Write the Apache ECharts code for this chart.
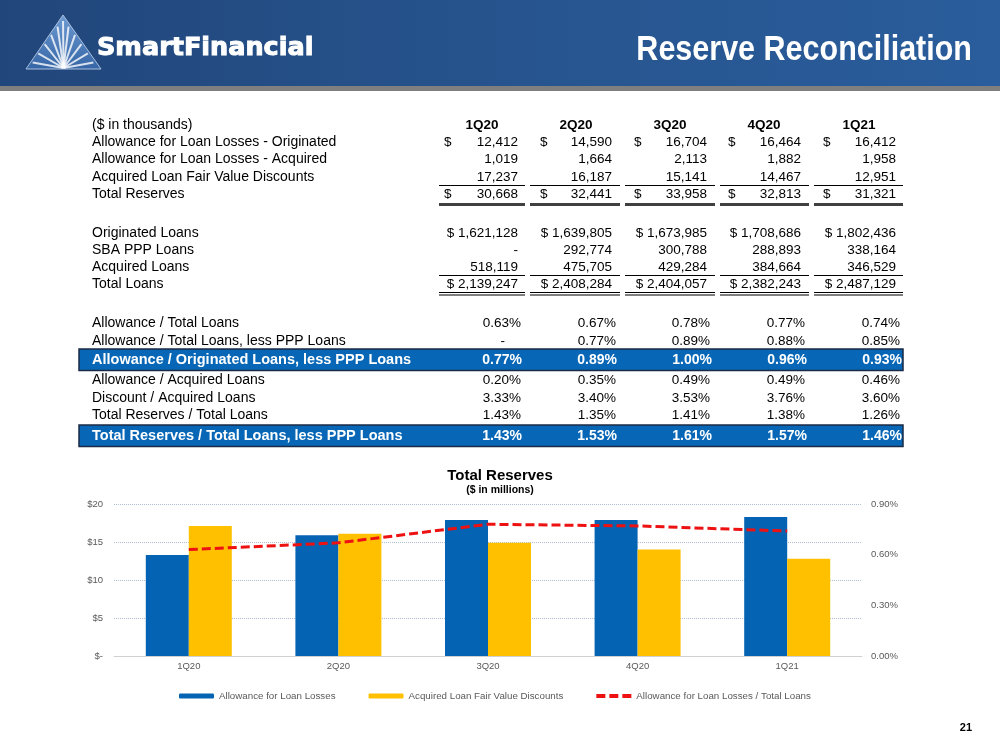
<!DOCTYPE html>
<html>
<head>
<meta charset="utf-8">
<script src="https://cdn.jsdelivr.net/npm/echarts@6/dist/echarts.min.js"></script>
<style>html,body{margin:0;padding:0;background:#fff}#c{width:1000px;height:750px}</style>
</head>
<body>
<div id="c"></div>
<script>
// ---------- data ----------
const quarters = ['1Q20', '2Q20', '3Q20', '4Q20', '1Q21'];
// table (in thousands)
const allowOrig = ['12,412', '14,590', '16,704', '16,464', '16,412'];
const allowAcq = ['1,019', '1,664', '2,113', '1,882', '1,958'];
const fvDisc = ['17,237', '16,187', '15,141', '14,467', '12,951'];
const totalRes = ['30,668', '32,441', '33,958', '32,813', '31,321'];
const origLoans = ['$ 1,621,128', '$ 1,639,805', '$ 1,673,985', '$ 1,708,686', '$ 1,802,436'];
const pppLoans = ['-', '292,774', '300,788', '288,893', '338,164'];
const acqLoans = ['518,119', '475,705', '429,284', '384,664', '346,529'];
const totLoans = ['$ 2,139,247', '$ 2,408,284', '$ 2,404,057', '$ 2,382,243', '$ 2,487,129'];
const pctAllowTot = ['0.63%', '0.67%', '0.78%', '0.77%', '0.74%'];
const pctAllowTotLessPPP = ['-', '0.77%', '0.89%', '0.88%', '0.85%'];
const pctAllowOrigLessPPP = ['0.77%', '0.89%', '1.00%', '0.96%', '0.93%'];
const pctAllowAcq = ['0.20%', '0.35%', '0.49%', '0.49%', '0.46%'];
const pctDiscAcq = ['3.33%', '3.40%', '3.53%', '3.76%', '3.60%'];
const pctResTot = ['1.43%', '1.35%', '1.41%', '1.38%', '1.26%'];
const pctResTotLessPPP = ['1.43%', '1.53%', '1.61%', '1.57%', '1.46%'];
// chart ($ in millions, ratio in %)
const allowanceM = [13.3, 15.9, 17.9, 17.9, 18.3];
const discountM = [17.1, 16.1, 14.9, 14.0, 12.8];
const ratioPct = [0.63, 0.67, 0.78, 0.77, 0.74];
const leftTicks = ['$-', '$5', '$10', '$15', '$20'];

// ---------- layout ----------
const FONT = '"Liberation Sans", Arial, Helvetica, sans-serif';
const colL = [439, 530, 625, 720, 814];
const colR = [525, 620, 715, 809, 903];
const colC = [482, 576, 670, 764, 859];
const numR = [518, 612, 707, 801, 896];
const dolX = [444, 540, 634, 728, 823];
const pctR = [521, 616, 710, 805, 900];
const hiR = [522, 617, 712, 807, 902];
const LABX = 92;

const G = [];
function txt(x, y, text, o) {
  G.push({type: 'text', x: x, y: y, silent: true, z: 10,
    style: Object.assign({text: text, fill: '#000', fontSize: 13.5, fontFamily: FONT,
      align: 'left', verticalAlign: 'middle'}, o || {})});
}
function hline(x1, x2, y, w, c) {
  G.push({type: 'line', silent: true, z: 10, shape: {x1: x1, y1: y, x2: x2, y2: y},
    style: {stroke: c || '#000', lineWidth: w || 1}});
}

// header band
G.push({type: 'rect', silent: true, z: 1, shape: {x: 0, y: 0, width: 1000, height: 86},
  style: {fill: new echarts.graphic.LinearGradient(0, 0, 1, 0, [
    {offset: 0, color: '#21467b'}, {offset: 0.55, color: '#27558f'}, {offset: 1, color: '#2a5d9c'}])}});
G.push({type: 'rect', silent: true, z: 1, shape: {x: 0, y: 86, width: 1000, height: 5},
  style: {fill: '#7f7f7f'}});
// logo triangle
G.push({type: 'polygon', silent: true, z: 2, shape: {points: [[63, 15], [101, 69], [26, 69]]},
  style: {fill: new echarts.graphic.LinearGradient(0, 0, 0, 1, [
    {offset: 0, color: '#6e9bd3'}, {offset: 1, color: '#3565a6'}]), stroke: '#a9c0de', lineWidth: 1}});
[[30, 62], [36, 52], [43, 42], [50, 32], [57, 23], [63, 17], [69, 23], [76, 32], [83, 42], [90, 52], [96, 62]].forEach(function (p) {
  G.push({type: 'line', silent: true, z: 3, shape: {x1: 63.5, y1: 68, x2: p[0] + (63.5 - p[0]) * 0.08, y2: p[1] + (68 - p[1]) * 0.08},
    style: {stroke: 'rgba(255,255,255,0.8)', lineWidth: 2}});
});
txt(97, 48, 'SmartFinancial', {fill: '#fff', fontSize: 25.5, fontWeight: 'bold', fontFamily: '"DejaVu Sans", sans-serif', stroke: '#fff', lineWidth: 1});
G.push({type: 'text', x: 972, y: 50, silent: true, z: 10, scaleY: 1.15,
  style: {text: 'Reserve Reconciliation', fill: '#fff', fontSize: 30.5, fontWeight: 'bold', fontFamily: FONT, align: 'right', verticalAlign: 'middle'}});

// table header
txt(LABX, 125, '($ in thousands)', {fontSize: 14});
quarters.forEach(function (q, i) { txt(colC[i], 125, q, {fontWeight: 'bold', align: 'center'}); });

function dollarRow(y, label, vals, withDollar) {
  txt(LABX, y, label, {fontSize: 14});
  vals.forEach(function (v, i) {
    if (withDollar) txt(dolX[i], y, '$');
    txt(numR[i], y, v, {align: 'right'});
  });
}
dollarRow(142, 'Allowance for Loan Losses - Originated', allowOrig, true);
dollarRow(159, 'Allowance for Loan Losses - Acquired', allowAcq, false);
dollarRow(177, 'Acquired Loan Fair Value Discounts', fvDisc, false);
dollarRow(194, 'Total Reserves', totalRes, true);
dollarRow(233, 'Originated Loans', origLoans, false);
dollarRow(250, 'SBA PPP Loans', pppLoans, false);
dollarRow(267, 'Acquired Loans', acqLoans, false);
dollarRow(284, 'Total Loans', totLoans, false);
for (let i = 0; i < 5; i++) {
  hline(colL[i], colR[i], 185.5, 1, '#000');
  hline(colL[i], colR[i], 204.5, 3, '#404040');
  hline(colL[i], colR[i], 275.5, 1, '#000');
  hline(colL[i], colR[i], 292.5, 1, '#000');
  hline(colL[i], colR[i], 295, 1, '#000');
}

function pctRow(y, label, vals) {
  txt(LABX, y, label, {fontSize: 14});
  vals.forEach(function (v, i) {
    if (v === '-') txt(pctR[i] - 16, y, v, {align: 'right'});
    else txt(pctR[i], y, v, {align: 'right'});
  });
}
function hiRow(y, label, vals) {
  G.push({type: 'rect', silent: true, z: 5, shape: {x: 79, y: y - 11, width: 824, height: 21.5},
    style: {fill: '#0767b6', stroke: '#1b2a45', lineWidth: 1.5}});
  txt(LABX, y, label, {fill: '#fff', fontWeight: 'bold', fontSize: 14.5});
  vals.forEach(function (v, i) { txt(hiR[i], y, v, {fill: '#fff', fontWeight: 'bold', fontSize: 14, align: 'right'}); });
}
pctRow(323, 'Allowance / Total Loans', pctAllowTot);
pctRow(341, 'Allowance / Total Loans, less PPP Loans', pctAllowTotLessPPP);
hiRow(360, 'Allowance / Originated Loans, less PPP Loans', pctAllowOrigLessPPP);
pctRow(380, 'Allowance / Acquired Loans', pctAllowAcq);
pctRow(398, 'Discount / Acquired Loans', pctDiscAcq);
pctRow(415, 'Total Reserves / Total Loans', pctResTot);
hiRow(436, 'Total Reserves / Total Loans, less PPP Loans', pctResTotLessPPP);

// page number
txt(972, 728, '21', {fontWeight: 'bold', fontSize: 11, align: 'right'});

const chart = echarts.init(document.getElementById('c'), null, {renderer: 'canvas'});
chart.setOption({
  animation: false,
  textStyle: {fontFamily: FONT},
  title: {
    text: 'Total Reserves', subtext: '($ in millions)', left: 'center', top: 463, itemGap: 2,
    textStyle: {fontSize: 15, fontWeight: 'bold', color: '#000', fontFamily: FONT},
    subtextStyle: {fontSize: 10.5, fontWeight: 'bold', color: '#000', fontFamily: FONT}
  },
  legend: {
    left: 174, top: 686, itemWidth: 35, itemHeight: 5, itemGap: 33,
    textStyle: {fontSize: 9.75, color: '#595959', fontFamily: FONT},
    data: [
      {name: 'Allowance for Loan Losses'},
      {name: 'Acquired Loan Fair Value Discounts'},
      {name: 'Allowance for Loan Losses / Total Loans',
       icon: 'path://M0,0h9v4h-9z M13,0h9v4h-9z M26,0h9v4h-9z',
       itemStyle: {color: '#ee1111', borderWidth: 0}, lineStyle: {width: 0}}
    ]
  },
  grid: {left: 114, right: 138, top: 504, bottom: 94},
  xAxis: {
    type: 'category', data: quarters,
    axisLine: {lineStyle: {color: '#d0d0d0'}}, axisTick: {show: false},
    axisLabel: {color: '#595959', fontSize: 9.5, margin: 5}
  },
  yAxis: [{
    type: 'value', min: 0, max: 20, interval: 5,
    axisLine: {show: false}, axisTick: {show: false},
    axisLabel: {color: '#595959', fontSize: 9.5, margin: 11, formatter: function (v) { return leftTicks[v / 5]; }},
    splitLine: {lineStyle: {type: 'dotted', color: '#aebfd3'}}
  }, {
    type: 'value', min: 0, max: 0.9, interval: 0.3, position: 'right',
    axisLine: {show: false}, axisTick: {show: false}, splitLine: {show: false},
    axisLabel: {color: '#595959', fontSize: 9.5, margin: 9, formatter: function (v) { return v.toFixed(2) + '%'; }}
  }],
  series: [{
    name: 'Allowance for Loan Losses', type: 'bar', data: allowanceM, barWidth: 43, barGap: '0%',
    itemStyle: {color: '#0563b3'}
  }, {
    name: 'Acquired Loan Fair Value Discounts', type: 'bar', data: discountM, barWidth: 43,
    itemStyle: {color: '#ffc000'}
  }, {
    name: 'Allowance for Loan Losses / Total Loans', type: 'line', yAxisIndex: 1, data: ratioPct,
    symbol: 'none', smooth: false, z: 5,
    lineStyle: {color: '#ee1111', width: 3, type: [9, 4]}, itemStyle: {color: '#ee1111'}
  }],
  graphic: G
});
</script>
</body>
</html>
